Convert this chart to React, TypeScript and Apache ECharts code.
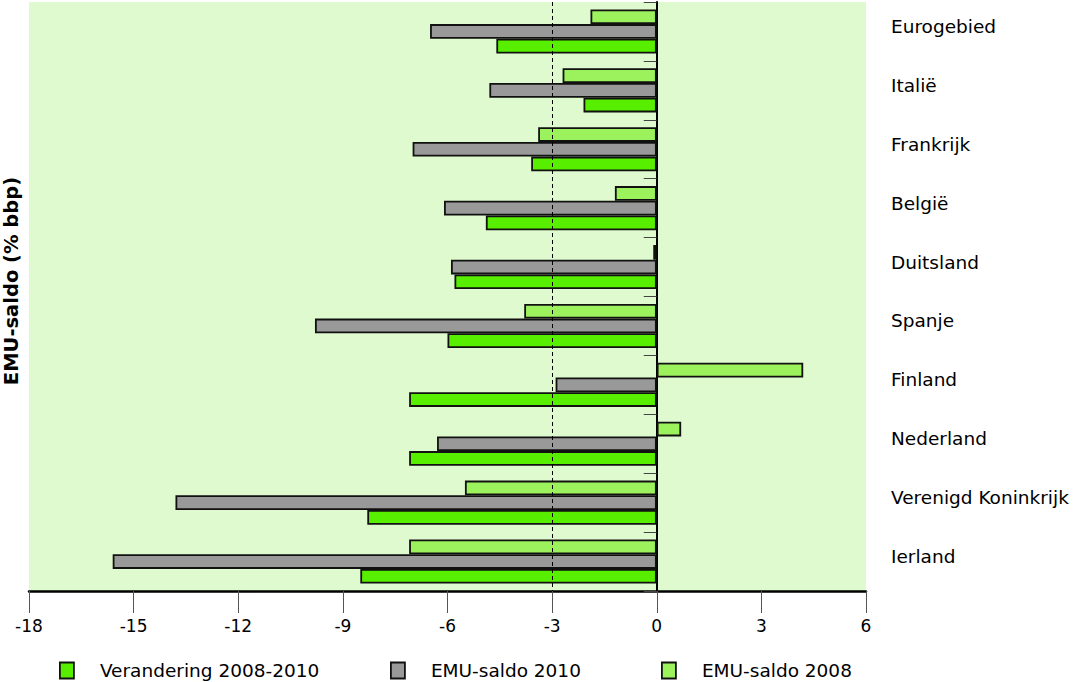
import React, { useEffect, useRef } from "react";
import * as echarts from "echarts";

const categories = [
  "Eurogebied",
  "Italië",
  "Frankrijk",
  "België",
  "Duitsland",
  "Spanje",
  "Finland",
  "Nederland",
  "Verenigd Koninkrijk",
  "Ierland",
];
const saldo2008 = [-1.9, -2.7, -3.4, -1.2, -0.1, -3.8, 4.2, 0.7, -5.5, -7.1];
const saldo2010 = [-6.5, -4.8, -7.0, -6.1, -5.9, -9.8, -2.9, -6.3, -13.8, -15.6];
const verandering = [-4.6, -2.1, -3.6, -4.9, -5.8, -6.0, -7.1, -7.1, -8.3, -8.5];

const NAME_CHANGE = "Verandering 2008-2010";
const NAME_2010 = "EMU-saldo 2010";
const NAME_2008 = "EMU-saldo 2008";

const FONT = "DejaVu Sans";

export default function App() {
  const ref = useRef<HTMLDivElement>(null);
  useEffect(() => {
    const chart = echarts.init(ref.current!, null, { renderer: "svg" });
    const barBase = {
      type: "bar",
      yAxisIndex: 0,
      barWidth: 14.7,
      barGap: "0%",
      itemStyle: { borderColor: "#111", borderWidth: 1.8 },
    };
    const legendBase = {
      top: 661,
      padding: 0,
      itemWidth: 14,
      itemHeight: 16,
      icon: "rect",
      textStyle: {
        fontFamily: FONT,
        fontSize: 18.5,
        color: "#000",
        padding: [0, 0, 0, 21],
      },
      itemStyle: { borderColor: "#111", borderWidth: 1.8 },
    };
    chart.setOption({
      animation: false,
      backgroundColor: "#ffffff",
      grid: {
        left: 29,
        right: 218,
        top: 2,
        bottom: 91,
        show: true,
        backgroundColor: "#DEFACE",
        borderWidth: 0,
      },
      legend: [
        { ...legendBase, left: 59, data: [NAME_CHANGE] },
        { ...legendBase, left: 390, data: [NAME_2010] },
        { ...legendBase, left: 661, data: [NAME_2008] },
      ],
      xAxis: {
        type: "value",
        min: -18,
        max: 6,
        interval: 3,
        splitLine: { show: false },
        axisLine: { show: true, lineStyle: { color: "#000", width: 2.5 } },
        axisTick: { show: true, length: 22, lineStyle: { color: "#555", width: 1 } },
        axisLabel: { fontFamily: FONT, fontSize: 17, color: "#000", margin: 26 },
      },
      yAxis: [
        {
          type: "category",
          data: categories,
          inverse: true,
          axisLine: { show: true, onZero: true, lineStyle: { color: "#000", width: 2 } },
          axisTick: { show: true, length: 13, lineStyle: { color: "#444", width: 1 } },
          axisLabel: { show: false },
          splitLine: { show: false },
        },
        {
          type: "category",
          data: categories,
          inverse: true,
          position: "right",
          axisLine: { show: false, onZero: false },
          axisTick: { show: false },
          splitLine: { show: false },
          axisLabel: {
            fontFamily: FONT,
            fontSize: 18.5,
            color: "#000",
            margin: 25,
            align: "left",
            verticalAlign: "bottom",
            lineHeight: 10,
          },
        },
      ],
      graphic: [
        {
          type: "text",
          x: 11.5,
          y: 281,
          rotation: Math.PI / 2,
          style: {
            text: "EMU-saldo (% bbp)",
            fontFamily: FONT,
            fontWeight: "bold",
            fontSize: 19.5,
            fill: "#000",
            textAlign: "center",
            textVerticalAlign: "middle",
          },
        },
      ],
      series: [
        {
          ...barBase,
          name: NAME_2008,
          data: saldo2008,
          itemStyle: { ...barBase.itemStyle, color: "#9CF25C" },
          markLine: {
            silent: true,
            symbol: ["none", "none"],
            label: { show: false },
            lineStyle: { color: "#000", type: [4, 3], width: 1 },
            data: [{ xAxis: -3 }],
          },
        },
        {
          ...barBase,
          name: NAME_2010,
          data: saldo2010,
          itemStyle: { ...barBase.itemStyle, color: "#999999" },
        },
        {
          ...barBase,
          name: NAME_CHANGE,
          data: verandering,
          itemStyle: { ...barBase.itemStyle, color: "#58EE00" },
        },
      ],
    });
    return () => chart.dispose();
  }, []);
  return <div ref={ref} style={{ width: 1084, height: 682, position: "absolute", left: 0, top: 0 }} />;
}
